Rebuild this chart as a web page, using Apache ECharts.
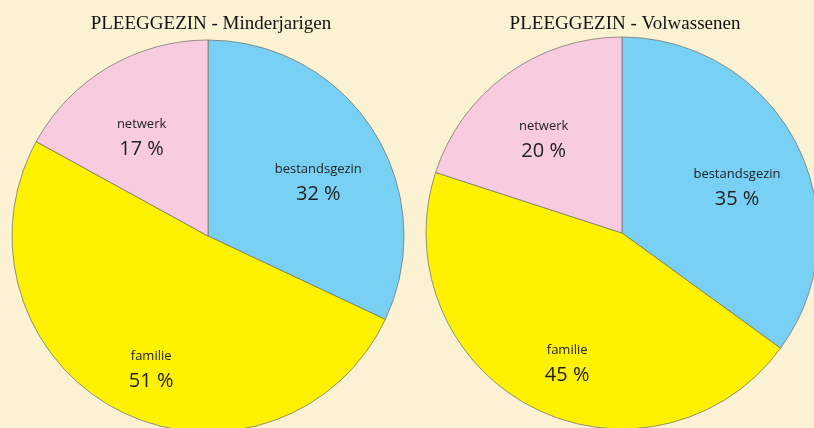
<!DOCTYPE html>
<html>
<head>
<meta charset="utf-8">
<script src="https://cdn.jsdelivr.net/npm/echarts@6/dist/echarts.min.js"></script>
<style>
  html, body { margin: 0; padding: 0; background: #faf2d2; }
  #chart { width: 814px; height: 428px; }
</style>
</head>
<body>
<div id="chart"></div>
<script>
// data
const categories = ['bestandsgezin', 'familie', 'netwerk']
const minderjarigen = [32, 51, 17]
const volwassenen = [35, 45, 20]
const titles = ['PLEEGGEZIN - Minderjarigen', 'PLEEGGEZIN - Volwassenen']

// slice colours, same order as categories
const colorList = ['#78d1f5', '#fff200', '#f8cbdf']

// label nudges from the default "inside" spot (per series, per slice)
const labelShift = [
  [[25, 2], [-11, 45], [-15, -10]],
  [[25, 2], [-9, 42], [-19, -10]],
]

const chart = echarts.init(document.getElementById('chart'))

const makePie = (values, center, idx) => ({
  type: 'pie',
  center: center,
  radius: 196,
  startAngle: 90,
  clockwise: true,
  avoidLabelOverlap: false,
  emphasis: { disabled: true },
  silent: true,
  data: values.map((v, i) => ({
    name: categories[i],
    value: v,
    itemStyle: { color: colorList[i] },
  })),
  itemStyle: {
    borderColor: '#7a7a72',
    borderWidth: 0.8,
  },
  label: {
    show: true,
    position: 'inside',
    formatter: '{n|{b}}\n{p|{c} %}',
    rich: {
      n: { fontFamily: 'Open Sans', fontSize: 13, color: '#222', lineHeight: 20, align: 'center' },
      p: { fontFamily: 'Open Sans', fontSize: 20, color: '#222', lineHeight: 30, align: 'center' },
    },
  },
  labelLine: { show: false },
  labelLayout: (params) => {
    const s = labelShift[idx][params.dataIndex]
    return { dx: s[0], dy: s[1] }
  },
})

const titleStyle = { fontFamily: 'Liberation Serif', fontSize: 19, fontWeight: 'normal', color: '#111' }

const option = {
  backgroundColor: '#faf2d2',
  animation: false,
  title: [
    { text: titles[0], left: 206, top: 10, textAlign: 'center', textStyle: titleStyle },
    { text: titles[1], left: 620, top: 10, textAlign: 'center', textStyle: titleStyle },
  ],
  series: [
    makePie(minderjarigen, [208, 236], 0),
    makePie(volwassenen, [622, 233], 1),
  ],
}

chart.setOption(option)
</script>
</body>
</html>
